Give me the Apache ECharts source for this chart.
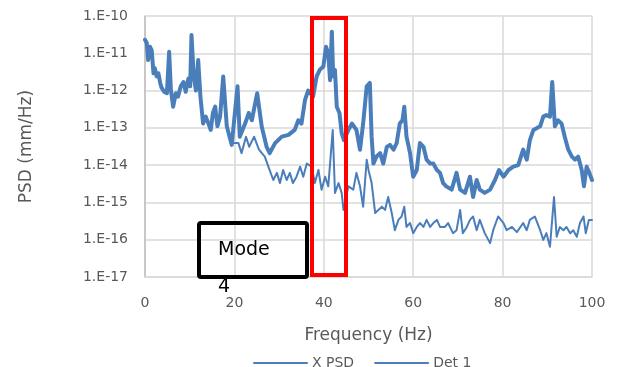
<!DOCTYPE html>
<html>
<head>
<meta charset="utf-8">
<script src="https://cdn.jsdelivr.net/npm/echarts@6/dist/echarts.min.js"></script>
<style>
  html, body { margin: 0; padding: 0; background: #fff; }
  #chart { width: 618px; height: 367px; }
</style>
</head>
<body>
<div id="chart"></div>
<script>
// Det 1 (thick line)
const detFreq = [
  0, 0.4, 0.7, 1.1, 1.5, 1.9, 2.2, 2.6, 3.0, 3.4,
  3.7, 4.3, 4.9, 5.4, 5.8, 6.3, 6.9, 7.4, 8.0, 8.6,
  9.1, 9.7, 10.1, 10.4, 10.9, 11.4, 11.9, 12.4, 13.0, 13.6,
  14.2, 14.7, 15.2, 15.7, 16.2, 16.8, 17.5, 18.3, 19.4, 20.7,
  21.2, 22.4, 23.2, 23.9, 25.1, 26.1, 27.2, 27.9, 29.1, 30.6,
  32.1, 33.5, 34.3, 35.0, 35.8, 36.5, 37.6, 38.4, 39.1, 39.9,
  40.5, 41.0, 41.4, 41.8, 42.1, 42.5, 42.9, 43.5, 44.0, 44.5,
  45.5, 46.3, 47.3, 48.1, 48.8, 49.6, 50.3, 50.7, 51.1, 51.8,
  52.6, 53.3, 54.1, 54.8, 55.6, 56.3, 57.0, 57.6, 58.0, 58.5,
  59.3, 60.0, 60.8, 61.5, 62.3, 63.0, 63.8, 64.5, 65.3, 66.0,
  66.7, 67.4, 68.6, 69.7, 70.5, 71.6, 72.7, 73.4, 74.2, 74.9,
  76.0, 77.2, 78.3, 79.2, 80.2, 81.3, 82.4, 83.5, 84.6, 85.4,
  86.1, 86.9, 87.6, 88.4, 89.1, 89.8, 90.6, 91.1, 91.7, 92.4,
  93.2, 93.9, 94.7, 95.5, 96.2, 96.9, 97.7, 98.2, 98.8, 99.4,
  100
]
const detPsd = [
  2.3e-11, 1.9e-11, 6.6e-12, 1.5e-11, 1.2e-11, 2.9e-12, 4.0e-12, 2.4e-12, 2.9e-12, 1.6e-12,
  1.2e-12, 9.3e-13, 8.5e-13, 1.1e-11, 1.0e-12, 3.7e-13, 8.5e-13, 6.9e-13, 1.3e-12, 1.7e-12,
  9.3e-13, 2.1e-12, 1.3e-12, 3.1e-11, 2.4e-12, 1.0e-12, 6.6e-12, 6.9e-13, 1.3e-13, 2.0e-13,
  1.3e-13, 8.8e-14, 2.5e-13, 3.7e-13, 1.1e-13, 2.0e-13, 2.4e-12, 1.1e-13, 3.5e-14, 1.3e-12,
  5.8e-14, 1.3e-13, 2.5e-13, 1.6e-13, 8.5e-13, 1.1e-13, 3.1e-14, 2.1e-14, 3.9e-14, 5.8e-14,
  6.5e-14, 8.8e-14, 1.6e-13, 1.3e-13, 5.6e-13, 1.0e-12, 6.9e-13, 2.4e-12, 3.6e-12, 4.4e-12,
  1.5e-11, 1.0e-11, 1.9e-12, 3.8e-11, 2.4e-12, 3.6e-12, 3.7e-13, 2.5e-13, 7.2e-14, 4.7e-14,
  8.8e-14, 1.3e-13, 8.8e-14, 2.6e-14, 1.3e-13, 1.3e-12, 1.6e-12, 5.8e-14, 1.1e-14, 1.7e-14,
  2.1e-14, 1.1e-14, 3.1e-14, 3.5e-14, 2.6e-14, 3.9e-14, 1.3e-13, 1.6e-13, 3.7e-13, 5.8e-14,
  2.1e-14, 4.9e-15, 7.4e-15, 3.9e-14, 3.1e-14, 1.4e-14, 1.1e-14, 1.1e-14, 7.4e-15, 6.2e-15,
  3.3e-15, 2.7e-15, 2.2e-15, 6.2e-15, 2.2e-15, 1.8e-15, 4.9e-15, 1.4e-15, 4.0e-15, 2.2e-15,
  1.8e-15, 2.2e-15, 4.0e-15, 7.4e-15, 4.9e-15, 7.4e-15, 9.1e-15, 1.0e-14, 2.6e-14, 1.4e-14,
  4.7e-14, 8.8e-14, 9.8e-14, 1.1e-13, 2.0e-13, 2.2e-13, 2.0e-13, 1.7e-12, 1.1e-13, 1.6e-13,
  1.3e-13, 5.8e-14, 2.6e-14, 1.7e-14, 1.4e-14, 1.7e-14, 7.4e-15, 2.7e-15, 9.1e-15, 6.2e-15,
  4.0e-15
]

// X PSD (thin line), overlaps Det 1 below ~19 Hz
const xFreq = [
  0, 0.4, 0.7, 1.1, 1.5, 1.9, 2.2, 2.6, 3.0, 3.4,
  3.7, 4.3, 4.9, 5.4, 5.8, 6.3, 6.9, 7.4, 8.0, 8.6,
  9.1, 9.7, 10.1, 10.4, 10.9, 11.4, 11.9, 12.4, 13.0, 13.6,
  14.2, 14.7, 15.2, 15.7, 16.2, 16.8, 17.5, 18.3,
  19.4, 20.9, 21.6, 22.6, 23.3, 24.4, 25.5, 26.8, 27.6, 28.7,
  29.5, 30.2, 30.9, 31.7, 32.4, 33.1, 33.9, 34.7, 35.4, 36.2,
  37.3, 38.0, 38.8, 39.5, 40.3, 41.0, 42.0, 42.5, 43.3, 44.0,
  44.4, 45.5, 46.6, 47.3, 48.1, 48.8, 49.6, 50.0, 50.7, 51.5,
  52.2, 53.0, 53.7, 54.4, 55.2, 55.9, 56.7, 57.4, 58.0, 58.5,
  59.3, 60.0, 60.8, 61.5, 62.3, 63.0, 63.8, 64.5, 65.3, 66.0,
  67.1, 67.8, 68.9, 69.7, 70.5, 71.1, 72.0, 72.7, 73.4, 74.2,
  74.9, 76.0, 77.2, 77.9, 79.0, 80.2, 80.9, 82.1, 83.2, 84.6,
  85.4, 86.1, 87.2, 88.4, 89.1, 89.8, 90.6, 91.5, 92.1, 92.8,
  93.6, 94.3, 95.1, 95.8, 96.6, 97.3, 98.1, 98.6, 99.3, 100
]
const xPsd = [
  2.3e-11, 1.9e-11, 6.6e-12, 1.5e-11, 1.2e-11, 2.9e-12, 4.0e-12, 2.4e-12, 2.9e-12, 1.6e-12,
  1.2e-12, 9.3e-13, 8.5e-13, 1.1e-11, 1.0e-12, 3.7e-13, 8.5e-13, 6.9e-13, 1.3e-12, 1.7e-12,
  9.3e-13, 2.1e-12, 1.3e-12, 3.1e-11, 2.4e-12, 1.0e-12, 6.6e-12, 6.9e-13, 1.3e-13, 2.0e-13,
  1.3e-13, 8.8e-14, 2.5e-13, 3.7e-13, 1.1e-13, 2.0e-13, 2.4e-12, 1.1e-13,
  3.9e-14, 3.9e-14, 2.1e-14, 5.8e-14, 3.1e-14, 5.8e-14, 2.6e-14, 1.7e-14, 9.1e-15, 4.0e-15,
  6.2e-15, 3.3e-15, 7.4e-15, 4.0e-15, 6.2e-15, 3.3e-15, 4.9e-15, 9.1e-15, 4.9e-15, 1.1e-14,
  9.1e-15, 3.3e-15, 7.4e-15, 2.2e-15, 4.9e-15, 2.7e-15, 8.8e-14, 1.8e-15, 3.3e-15, 1.8e-15,
  6.3e-16, 2.7e-15, 2.2e-15, 6.2e-15, 2.7e-15, 7.7e-16, 1.4e-14, 7.4e-15, 3.3e-15, 5.2e-16,
  6.3e-16, 7.7e-16, 6.3e-16, 1.4e-15, 5.2e-16, 1.8e-16, 3.4e-16, 4.2e-16, 7.7e-16, 2.2e-16,
  2.8e-16, 1.5e-16, 2.2e-16, 2.8e-16, 2.2e-16, 3.4e-16, 2.2e-16, 2.8e-16, 3.4e-16, 2.2e-16,
  2.2e-16, 2.8e-16, 1.5e-16, 1.8e-16, 6.3e-16, 1.5e-16, 2.2e-16, 3.4e-16, 4.2e-16, 1.8e-16,
  3.4e-16, 1.5e-16, 8.1e-17, 1.8e-16, 4.2e-16, 2.8e-16, 1.8e-16, 2.2e-16, 1.6e-16, 2.8e-16,
  1.8e-16, 3.4e-16, 4.2e-16, 1.8e-16, 9.9e-17, 1.5e-16, 6.5e-17, 1.4e-15, 1.2e-16, 2.2e-16,
  1.8e-16, 2.2e-16, 1.5e-16, 1.8e-16, 1.2e-16, 2.8e-16, 4.2e-16, 1.5e-16, 3.4e-16, 3.4e-16
]

const xTicks = [0, 20, 40, 60, 80, 100]

const blue = '#4A7EBB'
const textGray = '#595959'
const font = 'DejaVu Sans'

const chart = echarts.init(document.getElementById('chart'), null, { renderer: 'canvas' })

const pairs = (xs, ys) => xs.map((x, i) => [x, ys[i]])

const option = {
  animation: false,
  backgroundColor: '#fff',
  grid: { left: 145, right: 26, top: 16, bottom: 90 },
  xAxis: {
    type: 'value',
    min: xTicks[0],
    max: xTicks[xTicks.length - 1],
    interval: 20,
    name: 'Frequency (Hz)',
    nameLocation: 'middle',
    nameGap: 50,
    nameTextStyle: { color: textGray, fontSize: 17, fontFamily: font },
    axisLine: { lineStyle: { color: '#D9D9D9', width: 1.5 } },
    axisTick: { show: false },
    axisLabel: { color: textGray, fontSize: 14, fontFamily: font, margin: 19 },
    splitLine: { lineStyle: { color: '#D9D9D9', width: 1.5 } }
  },
  yAxis: {
    type: 'log',
    logBase: 10,
    min: 1e-17,
    max: 1e-10,
    interval: 1,
    name: 'PSD (mm/Hz)',
    nameLocation: 'middle',
    nameGap: 110,
    nameTextStyle: { color: textGray, fontSize: 17, fontFamily: font },
    axisLine: { show: true, lineStyle: { color: '#BFBFBF', width: 1.5 } },
    axisTick: { show: false },
    axisLabel: {
      color: textGray, fontSize: 14, fontFamily: font, margin: 17,
      formatter: v => '1.E' + Math.round(Math.log10(v))
    },
    splitLine: { lineStyle: { color: '#D9D9D9', width: 1.5 } }
  },
  legend: {
    left: 248,
    top: 351,
    itemWidth: 53,
    itemHeight: 14,
    itemGap: 20,
    itemStyle: { opacity: 0 },
    textStyle: { color: textGray, fontSize: 14, fontFamily: font },
    data: ['X PSD', 'Det 1']
  },
  series: [
    {
      name: 'X PSD',
      type: 'line',
      symbol: 'none',
      data: pairs(xFreq, xPsd),
      lineStyle: { color: blue, width: 2, join: 'round', cap: 'round' },
      itemStyle: { color: blue },
      z: 2
    },
    {
      name: 'Det 1',
      type: 'line',
      symbol: 'none',
      data: pairs(detFreq, detPsd),
      lineStyle: { color: blue, width: 4, join: 'round', cap: 'round' },
      itemStyle: { color: blue },
      z: 3
    }
  ],
  graphic: [
    {
      type: 'rect',
      shape: { x: 312, y: 18, width: 34, height: 257 },
      style: { fill: 'none', stroke: '#FF0000', lineWidth: 4 },
      z: 100
    },
    {
      type: 'rect',
      shape: { x: 199, y: 223, width: 108, height: 54, r: 2 },
      style: { fill: 'none', stroke: '#000', lineWidth: 4 },
      z: 100
    },
    {
      type: 'text',
      left: 218,
      top: 241,
      style: { text: 'Mode', fill: '#000', fontSize: 19, fontFamily: font },
      z: 101
    },
    {
      type: 'text',
      left: 218,
      top: 278,
      style: { text: '4', fill: '#000', fontSize: 19, fontFamily: font },
      z: 101
    }
  ]
}

chart.setOption(option)
</script>
</body>
</html>
